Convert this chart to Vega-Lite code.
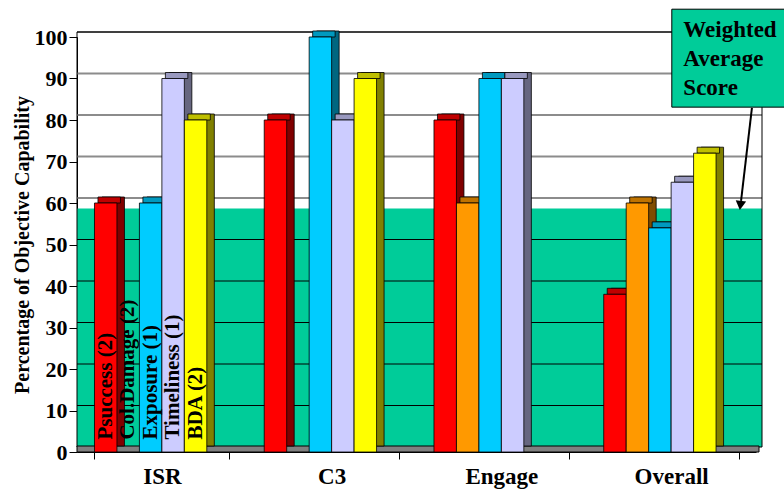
{
  "$schema": "https://vega.github.io/schema/vega-lite/v6.json",
  "width": 679,
  "height": 415,
  "autosize": {"type": "none"},
  "padding": {"left": 77, "top": 37, "right": 28, "bottom": 41},
  "background": "white",
  "config": {
    "view": {"stroke": null},
    "font": "Liberation Serif",
    "axis": {"labelFont": "Liberation Serif", "titleFont": "Liberation Serif"},
    "axisY": {
      "grid": false, "labelFontSize": 22, "labelFontWeight": "bold", "labelColor": "black",
      "labelFont": "Liberation Serif", "tickColor": "black", "domainColor": "black", "tickSize": 8, "labelPadding": 2,
      "titleFont": "Liberation Serif", "titleFontSize": 20, "titleFontWeight": "bold", "titleColor": "black", "titlePadding": 2,
      "values": [0, 10, 20, 30, 40, 50, 60, 70, 80, 90, 100]
    },
    "axisX": {
      "grid": false, "labelAngle": 0, "labelFontSize": 23, "labelFontWeight": "bold", "labelColor": "black",
      "labelFont": "Liberation Serif", "tickColor": "black", "domainColor": "black", "tickSize": 7, "labelPadding": 6,
      "tickBand": "extent", "title": null
    }
  },
  "datasets": {
    "bars": [
      {"cat": "ISR", "series": "Psuccess (2)", "value": 60},
      {"cat": "ISR", "series": "Col.Damage (2)", "value": null},
      {"cat": "ISR", "series": "Exposure (1)", "value": 60},
      {"cat": "ISR", "series": "Timeliness (1)", "value": 90},
      {"cat": "ISR", "series": "BDA (2)", "value": 80},
      {"cat": "C3", "series": "Psuccess (2)", "value": 80},
      {"cat": "C3", "series": "Col.Damage (2)", "value": null},
      {"cat": "C3", "series": "Exposure (1)", "value": 100},
      {"cat": "C3", "series": "Timeliness (1)", "value": 80},
      {"cat": "C3", "series": "BDA (2)", "value": 90},
      {"cat": "Engage", "series": "Psuccess (2)", "value": 80},
      {"cat": "Engage", "series": "Col.Damage (2)", "value": 60},
      {"cat": "Engage", "series": "Exposure (1)", "value": 90},
      {"cat": "Engage", "series": "Timeliness (1)", "value": 90},
      {"cat": "Engage", "series": "BDA (2)", "value": null},
      {"cat": "Overall", "series": "Psuccess (2)", "value": 38},
      {"cat": "Overall", "series": "Col.Damage (2)", "value": 60},
      {"cat": "Overall", "series": "Exposure (1)", "value": 54},
      {"cat": "Overall", "series": "Timeliness (1)", "value": 65},
      {"cat": "Overall", "series": "BDA (2)", "value": 72}
    ],
    "grid": [{"v": 10}, {"v": 20}, {"v": 30}, {"v": 40}, {"v": 50}, {"v": 60}, {"v": 70}, {"v": 80}, {"v": 90}, {"v": 100}],
    "wall": [{"lo": 0, "hi": 57.5}],
    "note": [{"bx": 87.6, "bx2": 104.5, "by": 83.1, "by2": 106.7, "tx": 89.3, "ty": 100, "ax": 99.4, "ay": 82.9, "ax2": 97.8, "ay2": 60.5, "hx": 97.7, "hy": 59.4}]
  },
  "layer": [
    {
      "layer": [
        {
          "data": {"name": "wall"},
          "mark": {"type": "rect", "fill": "#00CC99", "xOffset": 6, "x2Offset": 6, "yOffset": -5, "y2Offset": -5},
          "encoding": {
            "y": {"field": "lo", "type": "quantitative", "scale": {"domain": [0, 100], "nice": false}, "title": "Percentage of Objective Capability"},
            "y2": {"field": "hi"}
          }
        },
        {
          "data": {"name": "grid"},
          "mark": {"type": "rule", "xOffset": 6, "x2Offset": 6, "yOffset": -5},
          "encoding": {
            "y": {"field": "v", "type": "quantitative", "scale": {"domain": [0, 100], "nice": false}, "title": "Percentage of Objective Capability"},
            "color": {"condition": {"test": "datum.v <= 50 || datum.v == 100", "value": "black"}, "value": "#8c8c8c"},
            "strokeWidth": {"condition": {"test": "datum.v <= 50 || datum.v == 100", "value": 1}, "value": 2}
          }
        },
        {
          "data": {"name": "wall"},
          "mark": {"type": "rect", "fill": null, "fillOpacity": 0, "stroke": "black", "strokeWidth": 1, "xOffset": 6, "x2Offset": 6, "yOffset": -5, "y2Offset": -5},
          "encoding": {
            "y": {"datum": 0, "type": "quantitative", "scale": {"domain": [0, 100], "nice": false}, "title": "Percentage of Objective Capability"},
            "y2": {"datum": 100}
          }
        },
        {
          "data": {"name": "wall"},
          "mark": {"type": "rect", "fill": "#808080", "stroke": "black", "strokeWidth": 1, "xOffset": 3, "x2Offset": 3, "yOffset": 0, "y2Offset": -6},
          "encoding": {
            "y": {"datum": 0, "type": "quantitative", "scale": {"domain": [0, 100], "nice": false}, "title": "Percentage of Objective Capability"},
            "y2": {"datum": 0}
          }
        },
        {
          "data": {"name": "bars"},
          "mark": {"type": "bar", "yOffset": -6, "y2Offset": -6, "stroke": "black", "strokeWidth": 0.8},
          "encoding": {
            "x": {"field": "cat", "type": "nominal", "sort": null, "scale": {"domain": ["ISR", "C3", "Engage", "Overall"], "paddingInner": 0.206, "paddingOuter": 0.103}},
            "xOffset": {"field": "series", "type": "nominal", "scale": {"type": "band", "domain": ["Psuccess (2)", "Col.Damage (2)", "Exposure (1)", "Timeliness (1)", "BDA (2)", "_"], "paddingInner": 0, "paddingOuter": 0, "range": [7.5, 142.3]}},
            "y": {"field": "value", "type": "quantitative", "scale": {"domain": [0, 100], "nice": false}, "title": "Percentage of Objective Capability"},
            "color": {"field": "series", "type": "nominal", "legend": null, "scale": {"domain": ["Psuccess (2)", "Col.Damage (2)", "Exposure (1)", "Timeliness (1)", "BDA (2)"], "range": ["#800000", "#804C00", "#006680", "#666680", "#808000"]}}
          }
        },
        {
          "data": {"name": "bars"},
          "mark": {"type": "bar", "yOffset": -6, "y2Offset": 0, "stroke": "black", "strokeWidth": 0.8},
          "encoding": {
            "x": {"field": "cat", "type": "nominal", "sort": null, "scale": {"domain": ["ISR", "C3", "Engage", "Overall"], "paddingInner": 0.206, "paddingOuter": 0.103}},
            "xOffset": {"field": "series", "type": "nominal", "scale": {"type": "band", "domain": ["Psuccess (2)", "Col.Damage (2)", "Exposure (1)", "Timeliness (1)", "BDA (2)", "_"], "paddingInner": 0, "paddingOuter": 0, "range": [3.5, 138.3]}},
            "y": {"field": "value", "type": "quantitative", "scale": {"domain": [0, 100], "nice": false}, "title": "Percentage of Objective Capability"},
            "y2": {"field": "value"},
            "color": {"field": "series", "type": "nominal", "legend": null, "scale": {"domain": ["Psuccess (2)", "Col.Damage (2)", "Exposure (1)", "Timeliness (1)", "BDA (2)"], "range": ["#C00000", "#BF7300", "#0099BF", "#9999BF", "#BFBF00"]}}
          }
        },
        {
          "data": {"name": "bars"},
          "mark": {"type": "bar", "stroke": "black", "strokeWidth": 0.8},
          "encoding": {
            "x": {"field": "cat", "type": "nominal", "sort": null, "scale": {"domain": ["ISR", "C3", "Engage", "Overall"], "paddingInner": 0.206, "paddingOuter": 0.103}},
            "xOffset": {"field": "series", "type": "nominal", "scale": {"type": "band", "domain": ["Psuccess (2)", "Col.Damage (2)", "Exposure (1)", "Timeliness (1)", "BDA (2)", "_"], "paddingInner": 0, "paddingOuter": 0}},
            "y": {"field": "value", "type": "quantitative", "scale": {"domain": [0, 100], "nice": false}, "title": "Percentage of Objective Capability"},
            "color": {"field": "series", "type": "nominal", "legend": null, "scale": {"domain": ["Psuccess (2)", "Col.Damage (2)", "Exposure (1)", "Timeliness (1)", "BDA (2)"], "range": ["#FF0000", "#FF9900", "#00CCFF", "#CCCCFF", "#FFFF00"]}}
          }
        },
        {
          "data": {"name": "bars"},
          "transform": [{"filter": "datum.cat == 'ISR'"}],
          "mark": {"type": "text", "angle": 270, "align": "left", "baseline": "middle", "fontSize": 21, "fontWeight": "bold", "font": "Liberation Serif", "color": "black"},
          "encoding": {
            "x": {"field": "cat", "type": "nominal", "sort": null, "scale": {"domain": ["ISR", "C3", "Engage", "Overall"], "paddingInner": 0.206, "paddingOuter": 0.103}},
            "xOffset": {"field": "series", "type": "nominal", "scale": {"type": "band", "domain": ["Psuccess (2)", "Col.Damage (2)", "Exposure (1)", "Timeliness (1)", "BDA (2)", "_"], "paddingInner": 0, "paddingOuter": 0}},
            "y": {"datum": 3, "type": "quantitative", "scale": {"domain": [0, 100], "nice": false}, "title": "Percentage of Objective Capability"},
            "text": {"field": "series"}
          }
        }
      ],
      "resolve": {"scale": {"color": "independent", "xOffset": "independent"}}
    },
    {
      "data": {"name": "note"},
      "layer": [
        {
          "mark": {"type": "rect", "fill": "#00CC99", "stroke": "black", "strokeWidth": 1},
          "encoding": {
            "x": {"field": "bx", "type": "quantitative", "scale": {"domain": [0, 100], "nice": false, "zero": false}, "axis": null},
            "x2": {"field": "bx2"},
            "y": {"field": "by", "type": "quantitative", "scale": {"domain": [0, 100], "nice": false}, "axis": null},
            "y2": {"field": "by2"}
          }
        },
        {
          "mark": {"type": "text", "align": "left", "baseline": "alphabetic", "fontSize": 23, "fontWeight": "bold", "font": "Liberation Serif", "color": "black", "lineHeight": 29},
          "encoding": {
            "x": {"field": "tx", "type": "quantitative", "scale": {"domain": [0, 100], "nice": false, "zero": false}, "axis": null},
            "y": {"field": "ty", "type": "quantitative", "scale": {"domain": [0, 100], "nice": false}, "axis": null},
            "text": {"value": ["Weighted", "Average", "Score"]}
          }
        },
        {
          "mark": {"type": "rule", "color": "black", "strokeWidth": 2},
          "encoding": {
            "x": {"field": "ax", "type": "quantitative", "scale": {"domain": [0, 100], "nice": false, "zero": false}, "axis": null},
            "x2": {"field": "ax2"},
            "y": {"field": "ay", "type": "quantitative", "scale": {"domain": [0, 100], "nice": false}, "axis": null},
            "y2": {"field": "ay2"}
          }
        },
        {
          "mark": {"type": "point", "shape": "triangle-down", "filled": true, "color": "black", "size": 110, "angle": 7, "opacity": 1},
          "encoding": {
            "x": {"field": "hx", "type": "quantitative", "scale": {"domain": [0, 100], "nice": false, "zero": false}, "axis": null},
            "y": {"field": "hy", "type": "quantitative", "scale": {"domain": [0, 100], "nice": false}, "axis": null}
          }
        }
      ]
    }
  ],
  "resolve": {"scale": {"x": "independent", "y": "independent"}}
}
